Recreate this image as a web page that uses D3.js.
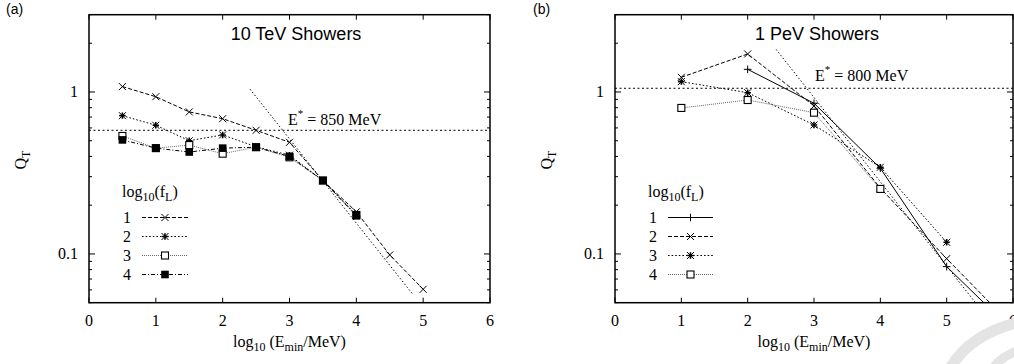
<!DOCTYPE html>
<html>
<head>
<meta charset="utf-8">
<script src="https://cdn.jsdelivr.net/npm/d3@7"></script>
<style>
  body { margin: 0; background: #fff; }
  svg { display: block; }
  .serif { font-family: "Liberation Serif", "DejaVu Serif", serif; }
  .sans { font-family: "Liberation Sans", Arial, sans-serif; }
</style>
</head>
<body>
<svg id="viz" width="1014" height="364"></svg>
<script>
// === DATA: panel (a) 10 TeV ===
const xA = [0.5, 1, 1.5, 2, 2.5, 3, 3.5, 4, 4.5, 5];
const qA1 = [1.08, 0.935, 0.753, 0.684, 0.58, 0.489, 0.284, 0.182, 0.0986, 0.0605];
const qA2 = [0.714, 0.623, 0.50, 0.543, 0.459, 0.407, 0.284, 0.174];
const qA3 = [0.535, 0.45, 0.47, 0.416, 0.456, 0.395, 0.284, 0.174];
const qA4 = [0.506, 0.45, 0.426, 0.45, 0.456, 0.40, 0.284, 0.172];
const eStarA = { label: "850 MeV", q: 0.58, steep: [[2.41, 1.04], [4.85, 0.056]] };

// === DATA: panel (b) 1 PeV ===
const xB = [1, 2, 3, 4, 5, 6];
const qB1 = [null, 1.38, 0.852, 0.338, 0.0835, 0.0334];
const qB2 = [1.232, 1.716, 0.82, 0.255, 0.0935, 0.0357];
const qB3 = [1.158, 0.99, 0.626, 0.343, 0.118];
const qB4 = [0.797, 0.892, 0.745, 0.252];
const eStarB = { label: "800 MeV", q: 1.054, steep: [[2.43, 1.83], [5.6, 0.041]] };

const xTicks = [0, 1, 2, 3, 4, 5, 6];
const yMajor = [0.1, 1];
const yMinor = [0.05, 0.06, 0.07, 0.08, 0.09, 0.2, 0.3, 0.4, 0.5, 0.6, 0.7, 0.8, 0.9, 2, 3];
const legendKeys = ["1", "2", "3", "4"];

// line styles (gnuplot-ish)
const styles = {
  solid:   { dash: null,      color: "#000" },
  dashed:  { dash: "4,2",     color: "#000" },
  dotted:  { dash: "1.6,2",   color: "#000" },
  fine:    { dash: "1,1",     color: "#666" },
  dashdot: { dash: "4,2,1,2", color: "#000" }
};

const svg = d3.select("#viz");

function makeSeries(xs, qs) {
  return xs.map((x, i) => ({ x, q: qs[i] })).filter(d => d.q != null && d.q !== undefined);
}

function drawMarker(g, type, cx, cy) {
  const s = 3.5;
  if (type === "cross" || type === "star") {
    g.append("path").attr("d", `M${cx - s},${cy - s}L${cx + s},${cy + s}M${cx - s},${cy + s}L${cx + s},${cy - s}`)
      .attr("stroke", "#000").attr("stroke-width", 1).attr("fill", "none");
  }
  if (type === "plus" || type === "star") {
    const p = type === "star" ? 3.2 : 3.8;
    g.append("path").attr("d", `M${cx - p},${cy}L${cx + p},${cy}M${cx},${cy - p}L${cx},${cy + p}`)
      .attr("stroke", "#000").attr("stroke-width", type === "star" ? 1.6 : 1).attr("fill", "none");
  }
  if (type === "box") {
    g.append("rect").attr("x", cx - 3.5).attr("y", cy - 3.5).attr("width", 7).attr("height", 7)
      .attr("fill", "#fff").attr("stroke", "#000").attr("stroke-width", 1.1);
  }
  if (type === "fbox") {
    g.append("rect").attr("x", cx - 3.8).attr("y", cy - 3.8).attr("width", 7.6).attr("height", 7.6)
      .attr("fill", "#000");
  }
}

function drawPanel(cfg) {
  const x = d3.scaleLinear().domain([0, 6]).range([cfg.left, cfg.right]);
  const y = d3.scaleLog().domain([0.05, 3]).range([302.7, 14.7]);
  const top = y(3), bottom = y(0.05);

  const clipId = "clip" + cfg.id;
  svg.append("clipPath").attr("id", clipId)
    .append("rect").attr("x", cfg.left).attr("y", top).attr("width", cfg.right - cfg.left).attr("height", bottom - top);

  const g = svg.append("g");

  // ticks (mirrored)
  const tk = g.append("g").attr("stroke", "#000").attr("stroke-width", 1);
  xTicks.forEach(t => {
    tk.append("line").attr("x1", x(t)).attr("x2", x(t)).attr("y1", bottom).attr("y2", bottom - 5);
    tk.append("line").attr("x1", x(t)).attr("x2", x(t)).attr("y1", top).attr("y2", top + 5);
  });
  yMajor.forEach(t => {
    tk.append("line").attr("x1", cfg.left).attr("x2", cfg.left + 6).attr("y1", y(t)).attr("y2", y(t));
    tk.append("line").attr("x1", cfg.right).attr("x2", cfg.right - 6).attr("y1", y(t)).attr("y2", y(t));
  });
  yMinor.forEach(t => {
    tk.append("line").attr("x1", cfg.left).attr("x2", cfg.left + 3).attr("y1", y(t)).attr("y2", y(t));
    tk.append("line").attr("x1", cfg.right).attr("x2", cfg.right - 3).attr("y1", y(t)).attr("y2", y(t));
  });

  // tick labels
  g.selectAll(".xl").data(xTicks).enter().append("text")
    .attr("class", "serif").attr("x", d => x(d)).attr("y", 326)
    .attr("text-anchor", "middle").attr("font-size", 16).text(d => d);
  g.selectAll(".yl").data(yMajor).enter().append("text")
    .attr("class", "serif").attr("x", cfg.left - 11).attr("y", d => y(d) + 5)
    .attr("text-anchor", "end").attr("font-size", 16).text(d => d);

  // frame
  g.append("rect").attr("x", cfg.left).attr("y", top).attr("width", cfg.right - cfg.left).attr("height", bottom - top)
    .attr("fill", "none").attr("stroke", "#000").attr("stroke-width", 1.5);

  const plot = g.append("g").attr("clip-path", `url(#${clipId})`);

  // E* guide lines
  plot.append("line").attr("x1", cfg.left).attr("x2", cfg.right).attr("y1", y(cfg.estar.q)).attr("y2", y(cfg.estar.q))
    .attr("stroke", "#000").attr("stroke-width", 1).attr("stroke-dasharray", "2,2.5");
  const st = cfg.estar.steep;
  plot.append("line").attr("x1", x(st[0][0])).attr("y1", y(st[0][1])).attr("x2", x(st[1][0])).attr("y2", y(st[1][1]))
    .attr("stroke", "#000").attr("stroke-width", 1).attr("stroke-dasharray", "1.4,2.2");

  const line = d3.line().x(d => x(d.x)).y(d => y(d.q));

  cfg.series.forEach(s => {
    const data = makeSeries(s.xs, s.qs);
    const sty = styles[s.style];
    plot.append("path").attr("d", line(data)).attr("fill", "none")
      .attr("stroke", sty.color).attr("stroke-width", 1)
      .attr("stroke-dasharray", sty.dash);
    data.filter(d => d.q >= 0.05 && d.q <= 3).forEach(d => drawMarker(plot, s.marker, x(d.x), y(d.q)));
  });

  // title
  g.append("text").attr("class", "sans").attr("x", cfg.titleX).attr("y", 40)
    .attr("text-anchor", "middle").attr("font-size", 18).text(cfg.title);

  // E* label
  const el = g.append("text").attr("class", "serif").attr("x", cfg.eLabelX).attr("y", cfg.eLabelY).attr("font-size", 16);
  el.append("tspan").text("E");
  el.append("tspan").attr("dy", -8).attr("font-size", 11).text("*");
  el.append("tspan").attr("dy", 8).text(" = " + cfg.estar.label);

  // axis labels
  const xl = g.append("text").attr("class", "serif").attr("x", (cfg.left + cfg.right) / 2).attr("y", 347)
    .attr("text-anchor", "middle").attr("font-size", 16);
  xl.append("tspan").text("log");
  xl.append("tspan").attr("dy", 4).attr("font-size", 12).text("10");
  xl.append("tspan").attr("dy", -4).text(" (E");
  xl.append("tspan").attr("dy", 4).attr("font-size", 12).text("min");
  xl.append("tspan").attr("dy", -4).text("/MeV)");

  const yl = g.append("text").attr("class", "serif")
    .attr("transform", `translate(${cfg.left - 63},160) rotate(-90)`)
    .attr("text-anchor", "middle").attr("font-size", 16);
  yl.append("tspan").text("Q");
  yl.append("tspan").attr("dy", 4).attr("font-size", 12).text("T");

  // panel tag
  g.append("text").attr("class", "sans").attr("x", cfg.tagX).attr("y", 14).attr("font-size", 14).text(cfg.tag);

  // legend
  const lg = g.append("g");
  const lt = lg.append("text").attr("class", "serif").attr("x", cfg.legX).attr("y", 197).attr("font-size", 16);
  lt.append("tspan").text("log");
  lt.append("tspan").attr("dy", 4).attr("font-size", 12).text("10");
  lt.append("tspan").attr("dy", -4).text("(f");
  lt.append("tspan").attr("dy", 4).attr("font-size", 12).text("L");
  lt.append("tspan").attr("dy", -4).text(")");

  cfg.series.forEach((s, i) => {
    const yy = 217.5 + i * 19;
    lg.append("text").attr("class", "serif").attr("x", cfg.legX + 9).attr("y", yy + 5)
      .attr("text-anchor", "end").attr("font-size", 16).text(legendKeys[i]);
    const sty = styles[s.style];
    lg.append("line").attr("x1", cfg.legLine[0]).attr("x2", cfg.legLine[1]).attr("y1", yy).attr("y2", yy)
      .attr("stroke", sty.color).attr("stroke-width", 1).attr("stroke-dasharray", sty.dash);
    drawMarker(lg, s.marker, (cfg.legLine[0] + cfg.legLine[1]) / 2, yy);
  });
}

drawPanel({
  id: "a", left: 89, right: 490, tag: "(a)", tagX: 6, title: "10 TeV Showers", titleX: 296,
  estar: eStarA, eLabelX: 288, eLabelY: 125, legX: 122, legLine: [142, 188],
  series: [
    { xs: xA, qs: qA1, style: "dashed", marker: "cross" },
    { xs: xA, qs: qA2, style: "dotted", marker: "star" },
    { xs: xA, qs: qA3, style: "fine", marker: "box" },
    { xs: xA, qs: qA4, style: "dashdot", marker: "fbox" }
  ]
});

drawPanel({
  id: "b", left: 615, right: 1013, tag: "(b)", tagX: 533, title: "1 PeV Showers", titleX: 817,
  estar: eStarB, eLabelX: 815, eLabelY: 81, legX: 648, legLine: [668, 713],
  series: [
    { xs: xB, qs: qB1, style: "solid", marker: "plus" },
    { xs: xB, qs: qB2, style: "dashed", marker: "cross" },
    { xs: xB, qs: qB3, style: "dotted", marker: "star" },
    { xs: xB, qs: qB4, style: "fine", marker: "box" }
  ]
});

// faint watermark stroke, bottom right
svg.append("path").attr("d", "M948,372 Q968,334 1020,322").attr("fill", "none")
  .attr("stroke", "#e4e4e4").attr("stroke-width", 11);
svg.append("path").attr("d", "M990,372 Q1000,356 1020,350").attr("fill", "none")
  .attr("stroke", "#e4e4e4").attr("stroke-width", 9);
</script>
</body>
</html>
